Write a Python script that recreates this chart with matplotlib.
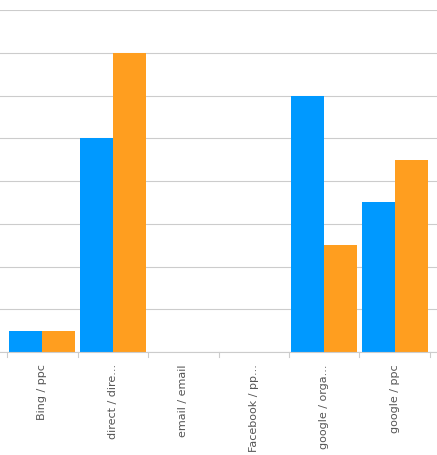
import matplotlib.pyplot as plt
import numpy as np

categories = ["Bing / ppc", "direct / dire...", "email / email", "Facebook / pp...", "google / orga...", "google / ppc"]
series_a = [0.5, 5, 0, 0, 6, 3.5]
series_b = [0.5, 7, 0, 0, 2.5, 4.5]

fig = plt.figure(figsize=(4.37, 4.56), dpi=100)
ax = fig.add_axes([0.0, 1 - 353/456, 1.0, (353 - 11)/456])
x = np.arange(len(categories))
w = 0.47
ax.bar(x - w/2, series_a, w, color="#0099ff", zorder=2)
ax.bar(x + w/2, series_b, w, color="#ff9e1f", zorder=2)
ax.set_xlim(-0.6, len(categories) - 0.4)
ax.set_ylim(0, 8)
ax.set_yticks(np.arange(0, 9))
ax.yaxis.grid(True, color="#cccccc", lw=0.8, zorder=0)
ax.tick_params(axis="y", left=False, labelleft=False)
ax.set_xticks(x)
ax.set_xticklabels(categories, rotation=90, color="#555555", fontsize=8)
ax.tick_params(axis="x", length=0, pad=8)
for xi in np.arange(-0.5, len(categories), 1.0):
    ax.plot([xi, xi], [0, -0.12], color="#cccccc", lw=0.8, clip_on=False)
for s in ["top", "right", "left"]:
    ax.spines[s].set_visible(False)
ax.spines["bottom"].set_color("#cccccc")
fig.savefig("out.png", dpi=100)
